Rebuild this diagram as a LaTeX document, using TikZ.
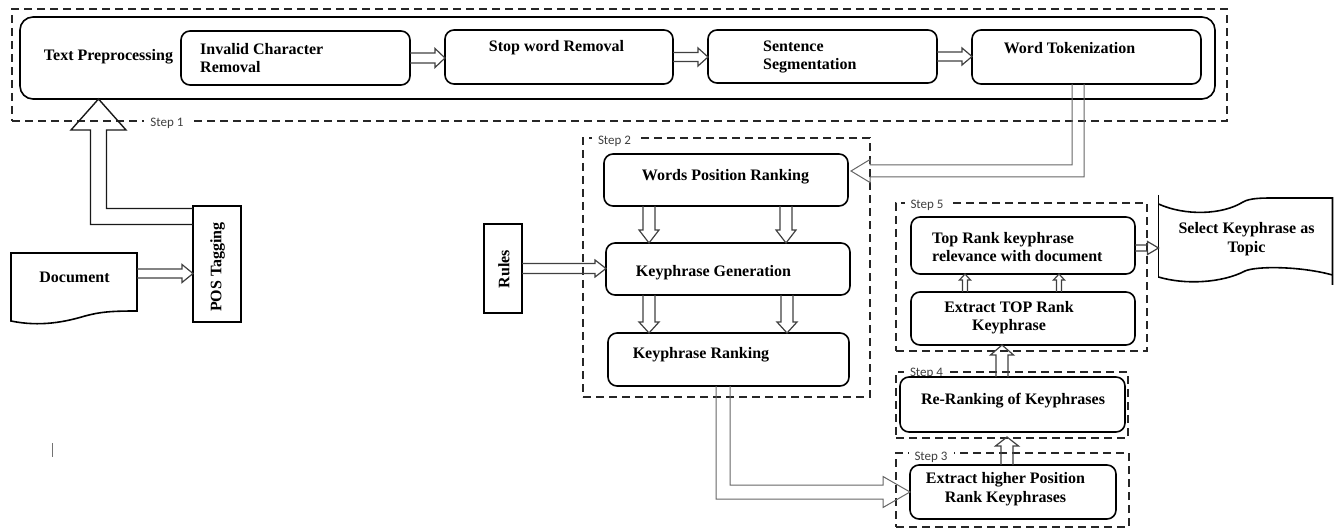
\documentclass[tikz,border=0pt]{standalone}
\usepackage{fontspec}
\setmainfont{Liberation Serif}
\newfontfamily\stepfont{Carlito}
\usetikzlibrary{calc}
\tikzset{
  stepbox/.style={draw=black!85, line width=1.9pt, dash pattern=on 8pt off 5pt, inner sep=0pt, outer sep=0pt},
  rbox/.style={draw=black, line width=1.6pt, rounded corners=9pt, inner sep=0pt, outer sep=0pt},
  sbox/.style={draw=black, line width=1.6pt, inner sep=0pt, outer sep=0pt},
  ghost/.style={inner sep=0pt, outer sep=0pt},
  shapeline/.style={draw=black, line width=1.6pt},
  txt/.style={font=\fontsize{16}{18.5}\selectfont\bfseries, inner sep=0pt},
  steplabel/.style={font=\stepfont\fontsize{13}{15}\selectfont, text=black!75, fill=white, inner xsep=6pt, inner ysep=1pt},
  arr/.style={draw=black!75, line width=1.2pt, line join=miter},
  thinarr/.style={draw=black!60, line width=1pt, line join=miter},
  bigarr/.style={draw=black!90, line width=1.4pt, line join=miter}
}
\newcommand\arrR[5]{\draw[arr] ($(#1)+(0,-#3)$) -- ($(#2)+(-#5,-#3)$) -- ($(#2)+(-#5,-#4)$) -- (#2) -- ($(#2)+(-#5,#4)$) -- ($(#2)+(-#5,#3)$) -- ($(#1)+(0,#3)$);}
\newcommand\arrD[5]{\draw[arr] ($(#1)+(-#3,0)$) -- ($(#2)+(-#3,-#5)$) -- ($(#2)+(-#4,-#5)$) -- (#2) -- ($(#2)+(#4,-#5)$) -- ($(#2)+(#3,-#5)$) -- ($(#1)+(#3,0)$);}
\newcommand\arrU[5]{\draw[arr] ($(#1)+(-#3,0)$) -- ($(#2)+(-#3,#5)$) -- ($(#2)+(-#4,#5)$) -- (#2) -- ($(#2)+(#4,#5)$) -- ($(#2)+(#3,#5)$) -- ($(#1)+(#3,0)$);}
\begin{document}
\begin{tikzpicture}[x=1pt,y=-1pt]
\useasboundingbox (0,0) rectangle (1341,529);

% step (dashed) boxes
\node[stepbox, minimum width=1215pt, minimum height=112pt] (step1) at (619.5,65) {};
\node[stepbox, minimum width=287pt, minimum height=259pt] (step2) at (726.5,267.5) {};
\node[stepbox, minimum width=251pt, minimum height=148pt] (step5) at (1021.5,277) {};
\node[stepbox, minimum width=232pt, minimum height=66pt] (step4) at (1012,405) {};
\node[stepbox, minimum width=233pt, minimum height=74pt] (step3) at (1012.5,490) {};
\node[steplabel] (s1) at (167,123) {Step 1};
\node[steplabel] (s2) at (614.5,141) {Step 2};
\node[steplabel] (s5) at (927,205) {Step 5};
\node[steplabel] (s4) at (926.5,373) {Step 4};
\node[steplabel] (s3) at (931,457.5) {Step 3};

% process boxes
\node[rbox, rounded corners=13pt, minimum width=1195pt, minimum height=82pt] (textpre) at (617.5,58) {};
\node[rbox, minimum width=229pt, minimum height=54pt] (inv) at (295.5,58) {};
\node[rbox, minimum width=228pt, minimum height=54pt] (stop) at (559,57) {};
\node[rbox, minimum width=229pt, minimum height=53pt] (sent) at (822.5,56.5) {};
\node[rbox, minimum width=229pt, minimum height=54pt] (word) at (1086.5,57) {};
\node[sbox, minimum width=48pt, minimum height=116pt] (pos) at (217,264) {};
\node[sbox, minimum width=38pt, minimum height=89pt] (rules) at (503,268.5) {};
\node[rbox, minimum width=244pt, minimum height=52pt] (wpr) at (726,180) {};
\node[rbox, minimum width=244pt, minimum height=52pt] (kgen) at (728,269) {};
\node[rbox, minimum width=241pt, minimum height=53pt] (krank) at (728.5,359.5) {};
\node[rbox, minimum width=224pt, minimum height=57pt] (toprank) at (1023,245.5) {};
\node[rbox, minimum width=224pt, minimum height=53pt] (extop) at (1023,318.5) {};
\node[rbox, minimum width=225pt, minimum height=55pt] (rerank) at (1012.5,404.5) {};
\node[rbox, minimum width=206pt, minimum height=54pt] (exhigh) at (1013,492) {};
\node[ghost, minimum width=126pt, minimum height=68pt] (doc) at (74,287) {};
\node[ghost, minimum width=174pt, minimum height=80pt] (select) at (1245.5,238) {};

% document shape
\draw[shapeline, line join=miter] (11,321) -- (11,253) -- (137,253) -- (137,311)
  .. controls (110,311) and (100,312) .. (85,316)
  .. controls (65,322) and (40,327) .. (11,321) -- cycle;
% select keyphrase (tape) shape
\draw[shapeline] (1158.5,195) -- (1158.5,278);
\draw[shapeline] (1158.5,204) .. controls (1185,216) and (1222,215) .. (1243,202)
  .. controls (1250,198) and (1262,198) .. (1275,198) -- (1332.5,198) -- (1332.5,285);
\draw[shapeline] (1158.5,277) .. controls (1185,285) and (1222,283) .. (1245,271)
  .. controls (1256,266) and (1300,266) .. (1332.5,275);

% texts
\node[txt] (tpT) at (108.5,57) {Text Preprocessing};
\node[txt, align=left, anchor=west] (invT) at (200,58) {Invalid Character\\Removal};
\node[txt] (stopT) at (556.5,48) {Stop word Removal};
\node[txt, align=left, anchor=west] (sentT) at (763,57) {Sentence\\Segmentation};
\node[txt] (wordT) at (1069.5,48) {Word Tokenization};
\node[txt] (docT) at (74.5,277) {Document};
\node[txt, rotate=90] (posT) at (217.5,267) {POS Tagging};
\node[txt, rotate=90] (rulesT) at (504,269) {Rules};
\node[txt] (wprT) at (725.5,177) {Words Position Ranking};
\node[txt] (kgenT) at (713.5,273) {Keyphrase Generation};
\node[txt] (krankT) at (701,355) {Keyphrase Ranking};
\node[txt, align=left, anchor=west] (toprankT) at (932,247) {Top Rank keyphrase\\relevance with document};
\node[txt, align=center] (extopT) at (1009,317.5) {Extract TOP Rank\\Keyphrase};
\node[txt, align=center] (selectT) at (1246.5,239) {Select Keyphrase as\\Topic};
\node[txt] (rerankT) at (1013,401) {Re-Ranking of Keyphrases};
\node[txt, align=center] (exhighT) at (1005.5,489) {Extract higher Position\\Rank Keyphrases};

% connector end points
\coordinate (a1t) at (inv.east -| stop.west);
\coordinate (a2t) at (stop.east -| sent.west);
\coordinate (a3t) at (sent.east -| word.west);
\coordinate (a4s) at ($(doc.north east)+(0,20.5)$);
\coordinate (a4t) at (a4s -| pos.west);
\coordinate (a5t) at (rules.east -| kgen.west);
\coordinate (a6s) at ($(wpr.south west)+(45,0)$);
\coordinate (a6t) at (a6s |- kgen.north);
\coordinate (a7s) at ($(wpr.south west)+(182,0)$);
\coordinate (a7t) at (a7s |- kgen.north);
\coordinate (a8s) at ($(kgen.south west)+(43,0)$);
\coordinate (a8t) at (a8s |- krank.north);
\coordinate (a9s) at ($(kgen.south west)+(181,0)$);
\coordinate (a9t) at (a9s |- krank.north);
\coordinate (a10s) at ($(toprank.east)+(0,2.5)$);
\coordinate (a10t) at (a10s -| select.west);
\coordinate (a11s) at ($(extop.north west)+(54,0)$);
\coordinate (a11t) at (a11s |- toprank.south);
\coordinate (a12s) at ($(extop.north west)+(148,0)$);
\coordinate (a12t) at (a12s |- toprank.south);
\coordinate (a13s) at ($(rerank.north west)+(102,0)$);
\coordinate (a13t) at (a13s |- extop.south);
\coordinate (a14s) at ($(exhigh.north west)+(97,0)$);
\coordinate (a14b) at (a14s |- rerank.south);
\coordinate (a14t) at ($(a14b)+(0,5)$);

% straight block arrows
\arrR{inv.east}{a1t}{5}{9.5}{10}
\arrR{stop.east}{a2t}{4.5}{9}{10}
\arrR{sent.east}{a3t}{4.5}{8.5}{10}
\arrR{a4s}{a4t}{4.5}{9}{11}
\arrR{rules.east}{a5t}{5}{8.5}{11}
\arrD{a6s}{a6t}{6}{10}{13}
\arrD{a7s}{a7t}{6}{10}{13}
\arrD{a8s}{a8t}{6}{10}{11}
\arrD{a9s}{a9t}{6}{10}{11}
\arrR{a10s}{a10t}{3}{6.5}{11}
\arrU{a11s}{a11t}{2.5}{5.5}{6}
\arrU{a12s}{a12t}{2.5}{5.5}{6}
\arrU{a13s}{a13t}{6}{11.5}{10}
\arrU{a14s}{a14t}{6}{11.5}{9}

% POS Tagging -> Text Preprocessing (large elbow arrow)
\coordinate (p1) at ($(pos.north west)+(0,10.5)$);
\coordinate (p3) at ($(textpre.south west)+(78.5,0)$);
\coordinate (p2) at (p3 |- p1);
\draw[bigarr] ($(p1)+(0,8)$) -- ($(p2)+(-8,8)$) -- ($(p3)+(-8,31)$) -- ($(p3)+(-27.5,31)$) -- (p3)
  -- ($(p3)+(27.5,31)$) -- ($(p3)+(8,31)$) -- ($(p2)+(8,-8)$) -- ($(p1)+(0,-8)$);

% Word Tokenization -> Words Position Ranking
\coordinate (w1) at ($(word.south west)+(106,0)$);
\coordinate (w3) at ($(wpr.north east)+(3,17)$);
\coordinate (w2) at (w1 |- w3);
\draw[thinarr] ($(w1)+(-6,0)$) -- ($(w2)+(-6,-6)$) -- ($(w3)+(19,-6)$) -- ($(w3)+(19,-11.5)$) -- (w3)
  -- ($(w3)+(19,11.5)$) -- ($(w3)+(19,6)$) -- ($(w2)+(6,6)$) -- ($(w1)+(6,0)$);

% Keyphrase Ranking -> Extract higher Position Rank Keyphrases
\coordinate (k1) at ($(krank.south west)+(115,0)$);
\coordinate (k3) at (exhigh.west);
\coordinate (k2) at (k1 |- k3);
\draw[thinarr] ($(k1)+(-7,0)$) -- ($(k2)+(-7,7)$) -- ($(k3)+(-27,7)$) -- ($(k3)+(-27,15.5)$) -- (k3)
  -- ($(k3)+(-27,-15.5)$) -- ($(k3)+(-27,-7)$) -- ($(k2)+(7,-7)$) -- ($(k1)+(7,0)$);

% stray mark
\draw[black!55, line width=0.8pt] (52,443) -- (52,457);
\end{tikzpicture}
\end{document}
